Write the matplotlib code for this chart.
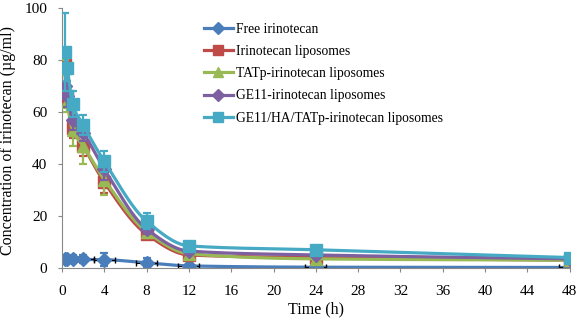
import numpy as np
import matplotlib.pyplot as plt

# sampling times (h)
time_h = [0.25, 0.5, 1, 2, 4, 8, 12, 24, 48]

# plasma concentrations (ug/ml), mean and SD
free_mean = [3.6, 3.5, 3.5, 3.3, 3.2, 2.0, 0.8, 0.3, 0.2]
free_sd = [1.0, 1.2, 1.5, 1.5, 2.5, 2.0, 0.8, 0.5, 0.5]
lipo_mean = [78, 66, 54, 47, 33, 13, 5.0, 4.0, 3.0]
lipo_sd = [4, 3, 4, 4, 4, 2, 1.5, 1.0, 1.0]
tatp_mean = [77, 64, 53, 47, 34, 14, 5.5, 3.5, 3.0]
tatp_sd = [3, 4, 6, 7, 6, 2, 1.5, 1.0, 1.0]
ge11_mean = [70, 66, 57, 52, 38, 15, 6.5, 5.0, 3.5]
ge11_sd = [5, 4, 4, 3, 4, 2, 1.5, 1.0, 1.0]
combo_mean = [83, 77, 63, 55, 41, 18, 8.5, 7.0, 4.0]
combo_sd = [15, 5, 5, 4, 4, 3, 1.5, 1.0, 1.0]

names = ['Free irinotecan', 'Irinotecan liposomes', 'TATp-irinotecan liposomes',
         'GE11-irinotecan liposomes', 'GE11/HA/TATp-irinotecan liposomes']
colors = ['#4A7EBB', '#BE4B48', '#98B954', '#7D60A0', '#46AAC5']
markers = ['D', 's', '^', 'D', 's']
msizes = [7, 8, 8, 7, 8.5]
means = [free_mean, lipo_mean, tatp_mean, ge11_mean, combo_mean]
sds = [free_sd, lipo_sd, tatp_sd, ge11_sd, combo_sd]


def pchip(x, y, xs):
    # monotone cubic for a smoothed line through the points
    x = np.asarray(x, float)
    y = np.asarray(y, float)
    h = np.diff(x)
    d = np.diff(y) / h
    m = np.zeros_like(y)
    for k in range(1, len(x) - 1):
        if d[k - 1] * d[k] > 0:
            w1 = 2 * h[k] + h[k - 1]
            w2 = h[k] + 2 * h[k - 1]
            m[k] = (w1 + w2) / (w1 / d[k - 1] + w2 / d[k])
    m[0] = d[0]
    m[-1] = d[-1]
    idx = np.clip(np.searchsorted(x, xs) - 1, 0, len(x) - 2)
    t = (xs - x[idx]) / h[idx]
    h00 = 2 * t**3 - 3 * t**2 + 1
    h10 = t**3 - 2 * t**2 + t
    h01 = -2 * t**3 + 3 * t**2
    h11 = t**3 - t**2
    return h00 * y[idx] + h10 * h[idx] * m[idx] + h01 * y[idx + 1] + h11 * h[idx] * m[idx + 1]


plt.rcParams['font.family'] = 'Liberation Serif'

fig = plt.figure(figsize=(5.79, 3.28), dpi=100)
ax = fig.add_axes([0.107, 0.183, 0.877, 0.793])

xs = np.linspace(time_h[0], time_h[-1], 800)
for i in range(len(names)):
    c = colors[i]
    ax.plot(xs, pchip(time_h, means[i], xs), color=c, lw=2.3, zorder=2 + i)
    if i == 0:
        ax.errorbar(time_h, means[i], xerr=1, fmt='none', ecolor='black',
                    elinewidth=0.8, capsize=2, zorder=2)
    ax.errorbar(time_h, means[i], yerr=sds[i], fmt='none', ecolor=c,
                elinewidth=1.6, capsize=3, capthick=1.6, zorder=2 + i)
    ax.plot(time_h, means[i], linestyle='none', marker=markers[i], color=c,
            markersize=msizes[i], zorder=2 + i)
    ax.plot([], [], color=c, lw=2.3, marker=markers[i], markersize=6.5, label=names[i])

ax.set_xlim(0, 48)
ax.set_ylim(0, 100)
ax.set_xticks(range(0, 49, 4))
ax.set_yticks(range(0, 101, 20))
ax.set_xlabel('Time (h)', fontsize=11.5, labelpad=3)
ax.set_ylabel('Concentration of irinotecan (\u00b5g/ml)', fontsize=11.5)
ax.yaxis.set_label_coords(-0.091, 0.49)
ax.tick_params(labelsize=11, length=3, color='#888888')
ax.tick_params(axis='x', pad=9)
ax.tick_params(axis='y', pad=7.5)
for s in ['top', 'right']:
    ax.spines[s].set_visible(False)
for s in ['left', 'bottom']:
    ax.spines[s].set_color('#888888')

ax.legend(loc='upper left', bbox_to_anchor=(0.256, 0.99), frameon=False,
          fontsize=9.8, handlelength=2.1, labelspacing=0.68, handletextpad=0.2)

fig.savefig('out.png', dpi=100)
